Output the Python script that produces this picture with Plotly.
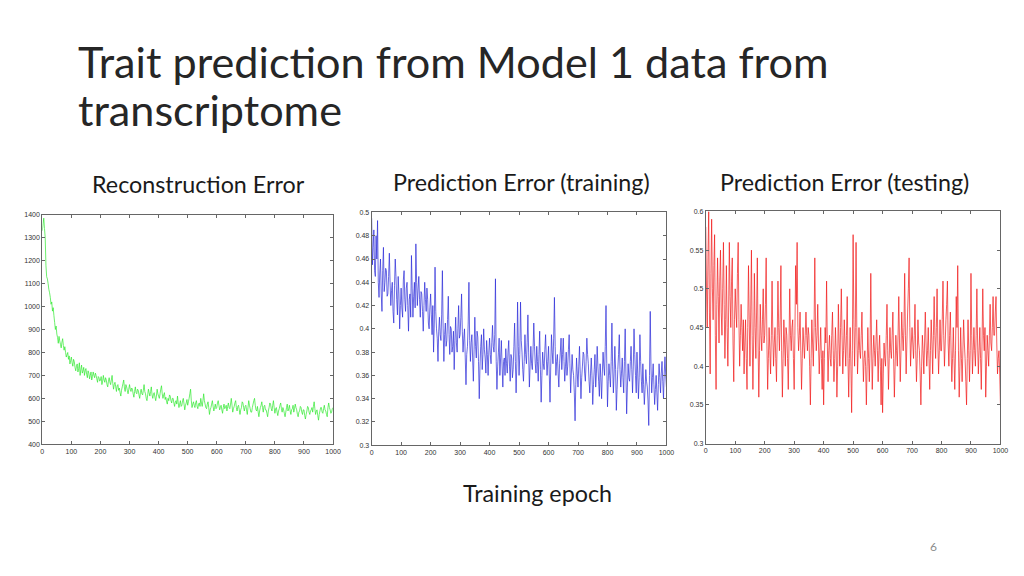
import plotly.graph_objects as go

# training epochs, sampled every 2.5 epochs
epochs = [i * 2.5 for i in range(401)]

recon_error = [
    1330, 1360, 1385, 1340, 1300, 1180, 1130, 1120, 1100, 1075, 1060, 1040, 1010, 1020, 980, 995, 960, 930, 900, 915,
    880, 865, 840, 870, 850, 835, 820, 845, 860, 830, 810, 825, 800, 780, 790, 800, 770, 785, 750, 765,
    780, 755, 740, 770, 760, 735, 720, 740, 750, 715, 730, 755, 700, 725, 745, 710, 720, 735, 700, 720,
    730, 705, 690, 720, 710, 685, 700, 715, 680, 695, 715, 700, 690, 710, 700, 685, 670, 695, 690, 675,
    680, 695, 660, 675, 700, 680, 670, 690, 680, 660, 650, 675, 690, 670, 660, 680, 700, 665, 640, 660,
    670, 650, 630, 655, 660, 635, 645, 625, 610, 635, 650, 665, 680, 645, 630, 660, 650, 635, 620, 640,
    660, 640, 630, 645, 640, 620, 605, 630, 650, 625, 620, 640, 635, 615, 600, 625, 640, 620, 615, 635,
    660, 630, 620, 600, 590, 615, 640, 625, 610, 630, 650, 615, 600, 620, 625, 605, 590, 610, 640, 620,
    610, 600, 620, 640, 655, 620, 600, 615, 625, 595, 605, 585, 575, 600, 590, 615, 610, 590, 580, 600,
    600, 580, 565, 585, 590, 575, 610, 580, 560, 575, 590, 565, 570, 590, 600, 575, 550, 570, 580, 595,
    570, 585, 600, 620, 640, 590, 560, 575, 585, 570, 560, 580, 590, 565, 555, 575, 580, 565, 600, 580,
    565, 590, 620, 590, 575, 560, 555, 575, 585, 560, 530, 550, 560, 575, 590, 565, 545, 560, 575, 555,
    560, 580, 590, 570, 550, 560, 570, 550, 535, 560, 575, 555, 560, 570, 545, 565, 580, 560, 555, 575,
    600, 570, 540, 555, 565, 580, 590, 560, 545, 565, 570, 550, 530, 550, 560, 585, 580, 560, 545, 565,
    570, 550, 530, 560, 590, 570, 555, 540, 540, 560, 575, 590, 600, 570, 550, 545, 565, 540, 520, 545,
    560, 570, 585, 560, 540, 565, 570, 550, 550, 535, 520, 545, 560, 580, 575, 555, 545, 570, 590, 560,
    535, 555, 560, 540, 525, 545, 555, 570, 580, 555, 540, 560, 550, 535, 520, 540, 560, 575, 545, 555,
    570, 545, 530, 550, 555, 570, 540, 555, 575, 560, 550, 530, 520, 540, 545, 565, 560, 540, 530, 550,
    550, 525, 510, 530, 545, 565, 560, 540, 530, 545, 550, 560, 540, 565, 585, 555, 530, 545, 550, 525,
    505, 530, 545, 560, 560, 540, 535, 555, 570, 550, 545, 530, 520, 560, 580, 560, 550, 535, 540, 555,
    560,
]

pred_train = [
    0.495, 0.455, 0.470, 0.485, 0.450, 0.445, 0.480, 0.460, 0.493, 0.440, 0.427, 0.448, 0.460, 0.430, 0.415, 0.450, 0.470, 0.432, 0.440, 0.452,
    0.450, 0.428, 0.430, 0.445, 0.465, 0.440, 0.420, 0.433, 0.440, 0.415, 0.405, 0.437, 0.460, 0.445, 0.425, 0.412, 0.445, 0.430, 0.400, 0.420,
    0.435, 0.418, 0.410, 0.442, 0.450, 0.425, 0.415, 0.435, 0.440, 0.420, 0.398, 0.425, 0.430, 0.410, 0.463, 0.435, 0.410, 0.428, 0.440, 0.418,
    0.473, 0.440, 0.420, 0.435, 0.445, 0.425, 0.410, 0.432, 0.430, 0.415, 0.398, 0.420, 0.440, 0.425, 0.415, 0.435, 0.425, 0.405, 0.400, 0.418,
    0.430, 0.412, 0.395, 0.420, 0.380, 0.405, 0.453, 0.415, 0.400, 0.392, 0.372, 0.398, 0.410, 0.395, 0.390, 0.412, 0.450, 0.400, 0.372, 0.395,
    0.405, 0.385, 0.390, 0.408, 0.428, 0.395, 0.378, 0.402, 0.400, 0.380, 0.385, 0.398, 0.365, 0.390, 0.410, 0.388, 0.380, 0.400, 0.420, 0.392,
    0.395, 0.410, 0.430, 0.398, 0.380, 0.392, 0.400, 0.375, 0.352, 0.378, 0.385, 0.405, 0.440, 0.390, 0.372, 0.388, 0.395, 0.375, 0.355, 0.382,
    0.410, 0.385, 0.375, 0.398, 0.393, 0.372, 0.340, 0.368, 0.385, 0.395, 0.365, 0.378, 0.400, 0.382, 0.375, 0.362, 0.390, 0.378, 0.360, 0.380,
    0.392, 0.378, 0.370, 0.388, 0.403, 0.385, 0.380, 0.395, 0.443, 0.372, 0.348, 0.368, 0.380, 0.392, 0.360, 0.375, 0.390, 0.368, 0.350, 0.372,
    0.375, 0.360, 0.383, 0.370, 0.362, 0.380, 0.390, 0.368, 0.355, 0.378, 0.375, 0.358, 0.365, 0.385, 0.405, 0.372, 0.345, 0.370, 0.423, 0.385,
    0.360, 0.378, 0.423, 0.390, 0.380, 0.365, 0.355, 0.372, 0.395, 0.378, 0.370, 0.388, 0.412, 0.380, 0.350, 0.368, 0.385, 0.370, 0.365, 0.382,
    0.405, 0.385, 0.370, 0.362, 0.385, 0.372, 0.355, 0.378, 0.398, 0.365, 0.337, 0.360, 0.380, 0.370, 0.365, 0.382, 0.395, 0.375, 0.360, 0.372,
    0.385, 0.362, 0.337, 0.368, 0.395, 0.380, 0.370, 0.392, 0.427, 0.385, 0.360, 0.372, 0.378, 0.362, 0.350, 0.370, 0.380, 0.392, 0.365, 0.378,
    0.392, 0.372, 0.355, 0.368, 0.380, 0.360, 0.368, 0.382, 0.395, 0.370, 0.345, 0.362, 0.378, 0.365, 0.360, 0.345, 0.321, 0.352, 0.375, 0.362,
    0.350, 0.368, 0.385, 0.362, 0.340, 0.358, 0.368, 0.380, 0.378, 0.362, 0.355, 0.372, 0.392, 0.378, 0.370, 0.355, 0.345, 0.362, 0.375, 0.360,
    0.335, 0.352, 0.365, 0.378, 0.350, 0.362, 0.385, 0.368, 0.355, 0.342, 0.370, 0.358, 0.340, 0.362, 0.380, 0.368, 0.360, 0.385, 0.420, 0.370,
    0.333, 0.355, 0.370, 0.360, 0.350, 0.372, 0.405, 0.368, 0.345, 0.362, 0.385, 0.365, 0.330, 0.348, 0.365, 0.378, 0.395, 0.365, 0.350, 0.362,
    0.375, 0.358, 0.345, 0.372, 0.400, 0.362, 0.327, 0.350, 0.370, 0.358, 0.355, 0.372, 0.385, 0.365, 0.345, 0.368, 0.400, 0.378, 0.360, 0.345,
    0.380, 0.362, 0.340, 0.358, 0.395, 0.372, 0.355, 0.345, 0.370, 0.352, 0.335, 0.348, 0.365, 0.355, 0.350, 0.338, 0.317, 0.360, 0.415, 0.368,
    0.345, 0.358, 0.370, 0.352, 0.335, 0.348, 0.360, 0.345, 0.330, 0.352, 0.370, 0.358, 0.345, 0.362, 0.372, 0.355, 0.340, 0.362, 0.376, 0.360,
    0.350,
]

pred_test = [
    0.580, 0.500, 0.450, 0.540, 0.600, 0.470, 0.390, 0.520, 0.590, 0.500, 0.460, 0.530, 0.570, 0.440, 0.370, 0.480, 0.540, 0.490, 0.430, 0.510,
    0.550, 0.470, 0.440, 0.500, 0.560, 0.480, 0.410, 0.460, 0.530, 0.450, 0.400, 0.470, 0.560, 0.490, 0.450, 0.510, 0.540, 0.430, 0.380, 0.460,
    0.500, 0.470, 0.450, 0.520, 0.560, 0.460, 0.400, 0.440, 0.480, 0.450, 0.420, 0.460, 0.390, 0.430, 0.460, 0.410, 0.370, 0.450, 0.530, 0.460,
    0.400, 0.470, 0.550, 0.440, 0.370, 0.430, 0.520, 0.450, 0.410, 0.470, 0.540, 0.430, 0.360, 0.420, 0.480, 0.440, 0.420, 0.460, 0.500, 0.430,
    0.440, 0.480, 0.540, 0.430, 0.370, 0.410, 0.450, 0.420, 0.390, 0.440, 0.510, 0.440, 0.400, 0.430, 0.450, 0.410, 0.380, 0.440, 0.510, 0.450,
    0.420, 0.460, 0.530, 0.420, 0.360, 0.410, 0.460, 0.430, 0.400, 0.450, 0.440, 0.410, 0.370, 0.430, 0.500, 0.440, 0.420, 0.450, 0.460, 0.410,
    0.370, 0.440, 0.530, 0.480, 0.560, 0.450, 0.420, 0.440, 0.470, 0.420, 0.370, 0.410, 0.450, 0.430, 0.410, 0.440, 0.470, 0.440, 0.420, 0.450,
    0.440, 0.400, 0.350, 0.410, 0.460, 0.430, 0.400, 0.450, 0.540, 0.450, 0.420, 0.440, 0.480, 0.430, 0.390, 0.420, 0.450, 0.410, 0.370, 0.420,
    0.350, 0.410, 0.450, 0.430, 0.510, 0.430, 0.380, 0.420, 0.440, 0.410, 0.400, 0.440, 0.470, 0.420, 0.380, 0.410, 0.450, 0.420, 0.360, 0.400,
    0.480, 0.430, 0.400, 0.450, 0.500, 0.440, 0.390, 0.420, 0.460, 0.430, 0.400, 0.440, 0.490, 0.410, 0.360, 0.410, 0.450, 0.400, 0.340, 0.420,
    0.570, 0.460, 0.400, 0.450, 0.560, 0.450, 0.390, 0.420, 0.450, 0.420, 0.410, 0.440, 0.470, 0.420, 0.380, 0.410, 0.420, 0.400, 0.350, 0.400,
    0.450, 0.410, 0.380, 0.420, 0.520, 0.430, 0.370, 0.410, 0.440, 0.420, 0.400, 0.430, 0.460, 0.420, 0.380, 0.420, 0.440, 0.400, 0.350, 0.410,
    0.340, 0.390, 0.430, 0.410, 0.400, 0.440, 0.480, 0.420, 0.370, 0.410, 0.450, 0.420, 0.410, 0.440, 0.470, 0.410, 0.360, 0.400, 0.440, 0.420,
    0.400, 0.440, 0.490, 0.430, 0.380, 0.420, 0.470, 0.440, 0.420, 0.450, 0.520, 0.440, 0.390, 0.430, 0.470, 0.500, 0.540, 0.450, 0.400, 0.430,
    0.450, 0.430, 0.410, 0.440, 0.480, 0.420, 0.380, 0.410, 0.460, 0.430, 0.420, 0.390, 0.350, 0.400, 0.440, 0.420, 0.390, 0.430, 0.470, 0.430,
    0.400, 0.420, 0.450, 0.410, 0.370, 0.420, 0.460, 0.430, 0.390, 0.440, 0.490, 0.440, 0.410, 0.450, 0.500, 0.430, 0.390, 0.420, 0.460, 0.420,
    0.420, 0.460, 0.510, 0.440, 0.400, 0.430, 0.460, 0.480, 0.510, 0.430, 0.400, 0.440, 0.470, 0.420, 0.380, 0.410, 0.450, 0.410, 0.370, 0.420,
    0.490, 0.450, 0.530, 0.420, 0.360, 0.400, 0.450, 0.410, 0.380, 0.420, 0.460, 0.430, 0.410, 0.380, 0.350, 0.410, 0.460, 0.420, 0.380, 0.420,
    0.520, 0.440, 0.390, 0.420, 0.450, 0.420, 0.400, 0.440, 0.500, 0.430, 0.390, 0.420, 0.450, 0.410, 0.370, 0.430, 0.500, 0.440, 0.420, 0.450,
    0.360, 0.400, 0.440, 0.420, 0.400, 0.440, 0.480, 0.430, 0.420, 0.450, 0.490, 0.440, 0.440, 0.470, 0.490, 0.430, 0.390, 0.410, 0.420, 0.390,
    0.350,
]

x_ticks = [0, 100, 200, 300, 400, 500, 600, 700, 800, 900, 1000]
recon_ticks = [400, 500, 600, 700, 800, 900, 1000, 1100, 1200, 1300, 1400]
train_ticks = [0.3, 0.32, 0.34, 0.36, 0.38, 0.4, 0.42, 0.44, 0.46, 0.48, 0.5]
test_ticks = [0.3, 0.35, 0.4, 0.45, 0.5, 0.55, 0.6]

W, H = 1024, 576

def px(v):
    return v / W

def py(v):
    return 1 - v / H

fig = go.Figure()
fig.add_trace(go.Scatter(x=epochs, y=recon_error, mode="lines",
                         line=dict(color="#2ee82e", width=0.7, simplify=False),
                         xaxis="x", yaxis="y", showlegend=False))
fig.add_trace(go.Scatter(x=epochs, y=pred_train, mode="lines",
                         line=dict(color="#2a2ad8", width=0.7, simplify=False),
                         xaxis="x2", yaxis="y2", showlegend=False))
fig.add_trace(go.Scatter(x=epochs, y=pred_test, mode="lines",
                         line=dict(color="#f01818", width=0.7, simplify=False),
                         xaxis="x3", yaxis="y3", showlegend=False))

tickfont = dict(family="Liberation Sans, Arial, sans-serif", size=7, color="#333333")
axis_common = dict(showgrid=False, zeroline=False, showline=True, linecolor="#666666",
                   linewidth=1, mirror="ticks", ticks="inside", ticklen=3,
                   tickcolor="#666666", tickfont=tickfont)

panels = [
    ((40.7, 334.3), (213.3, 445.7), [400, 1400], recon_ticks),
    ((373.3, 671.0), (211.0, 446.7), [0.3, 0.5], train_ticks),
    ((710.7, 1008.3), (210.0, 445.0), [0.3, 0.6], test_ticks),
]
layout_axes = {}
for i, ((x0, x1), (y0, y1), yr, yt) in enumerate(panels):
    sfx = "" if i == 0 else str(i + 1)
    layout_axes["xaxis" + sfx] = dict(axis_common, domain=[px(x0), px(x1)], range=[0, 1000],
                                      tickvals=x_ticks, anchor="y" + sfx)
    layout_axes["yaxis" + sfx] = dict(axis_common, domain=[py(y1), py(y0)], range=yr,
                                      tickvals=yt, ticktext=[f"{t:g}" for t in yt],
                                      anchor="x" + sfx)

fig.update_layout(autosize=True, margin=dict(l=0, r=0, t=0, b=0),
                  paper_bgcolor="white", plot_bgcolor="white", **layout_axes)

title_font = dict(family="Lato, Open Sans, sans-serif", size=43.2, color="#262626")
sub_font = dict(family="Lato, Open Sans, sans-serif", size=23.3, color="#1a1a1a")
annotations = [
    dict(text="Trait prediction from Model 1 data from", x=px(75), y=py(58), font=title_font,
         xanchor="left", yanchor="middle"),
    dict(text="transcriptome", x=px(75), y=py(106), font=title_font,
         xanchor="left", yanchor="middle"),
    dict(text="Reconstruction Error", x=px(198), y=py(182), font=sub_font,
         xanchor="center", yanchor="middle"),
    dict(text="Prediction Error (training)", x=px(525), y=py(180), font=sub_font,
         xanchor="center", yanchor="middle"),
    dict(text="Prediction Error (testing)", x=px(851), y=py(180), font=sub_font,
         xanchor="center", yanchor="middle"),
    dict(text="Training epoch", x=px(541), y=py(495), font=sub_font,
         xanchor="center", yanchor="middle"),
    dict(text="6", x=px(941), y=py(549), font=dict(family="Lato, sans-serif", size=12, color="#8c8c8c"),
         xanchor="center", yanchor="middle"),
]
fig.update_layout(annotations=[dict(a, xref="paper", yref="paper", showarrow=False) for a in annotations])

fig.write_html("out.html", config={"responsive": True, "displayModeBar": False},
               default_width="100vw", default_height="100vh",
               include_plotlyjs=True, full_html=True,
               post_script="document.body.style.margin='0';document.body.style.overflow='hidden';")
